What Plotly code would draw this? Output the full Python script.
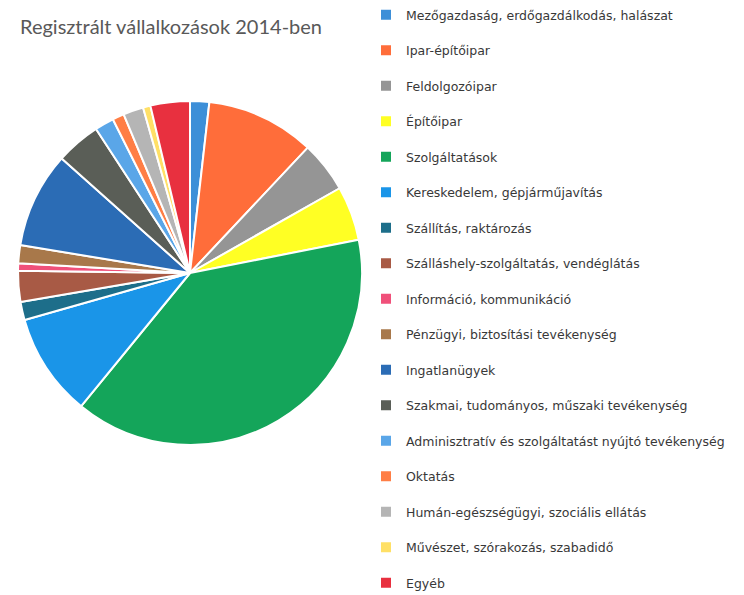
import plotly.graph_objects as go

# Sector names (legend order, clockwise from 12 o'clock)
sectors = [
    "Mezőgazdaság, erdőgazdálkodás, halászat",
    "Ipar-építőipar",
    "Feldolgozóipar",
    "Építőipar",
    "Szolgáltatások",
    "Kereskedelem, gépjárműjavítás",
    "Szállítás, raktározás",
    "Szálláshely-szolgáltatás, vendéglátás",
    "Információ, kommunikáció",
    "Pénzügyi, biztosítási tevékenység",
    "Ingatlanügyek",
    "Szakmai, tudományos, műszaki tevékenység",
    "Adminisztratív és szolgáltatást nyújtó tevékenység",
    "Oktatás",
    "Humán-egészségügyi, szociális ellátás",
    "Művészet, szórakozás, szabadidő",
    "Egyéb",
]

# Share of registered enterprises, %
shares = [1.8, 10.2, 4.8, 5.1, 39.0, 9.7, 1.7, 2.9, 0.7, 1.7,
          9.0, 4.2, 1.8, 1.1, 1.9, 0.7, 3.7]

colors = [
    "#3d8fd8", "#ff6d3a", "#959595", "#ffff24", "#14a55a", "#1a95e8",
    "#1d6e8a", "#a85a45", "#f0507a", "#a8784a", "#2b6cb5", "#5a5e57",
    "#5aa6e8", "#ff7e45", "#b5b5b5", "#ffe066", "#e8303f",
]

W, H = 744, 595
cx, cy, r = 190, 273, 172

# An empty second line under each legend entry (except the last) spaces the
# legend rows out over the full height of the figure.
legend_text = [s + "<br> " for s in sectors[:-1]] + [sectors[-1]]

fig = go.Figure(
    go.Pie(
        labels=legend_text,
        values=shares,
        sort=False,
        direction="clockwise",
        rotation=0,
        textinfo="none",
        hoverinfo="value",
        marker=dict(colors=colors, line=dict(color="white", width=2)),
        domain=dict(
            x=[(cx - r) / W, (cx + r) / W],
            y=[(H - cy - r) / H, (H - cy + r) / H],
        ),
    )
)

fig.update_layout(
    width=W,
    height=H,
    margin=dict(l=0, r=0, t=0, b=0),
    paper_bgcolor="white",
    plot_bgcolor="white",
    title=dict(
        text="Regisztrált vállalkozások 2014-ben",
        x=20 / W,
        xanchor="left",
        y=1 - 27 / H,
        yanchor="middle",
        font=dict(family="Lato, sans-serif", size=20, color="#595959"),
    ),
    legend=dict(
        x=366 / W,
        xanchor="left",
        y=1.0,
        yanchor="top",
        valign="top",
        maxheight=900,
        font=dict(family="DejaVu Sans, sans-serif", size=12.5,
                  color="#383838"),
        bgcolor="rgba(0,0,0,0)",
    ),
)

fig.write_html("out.html")
